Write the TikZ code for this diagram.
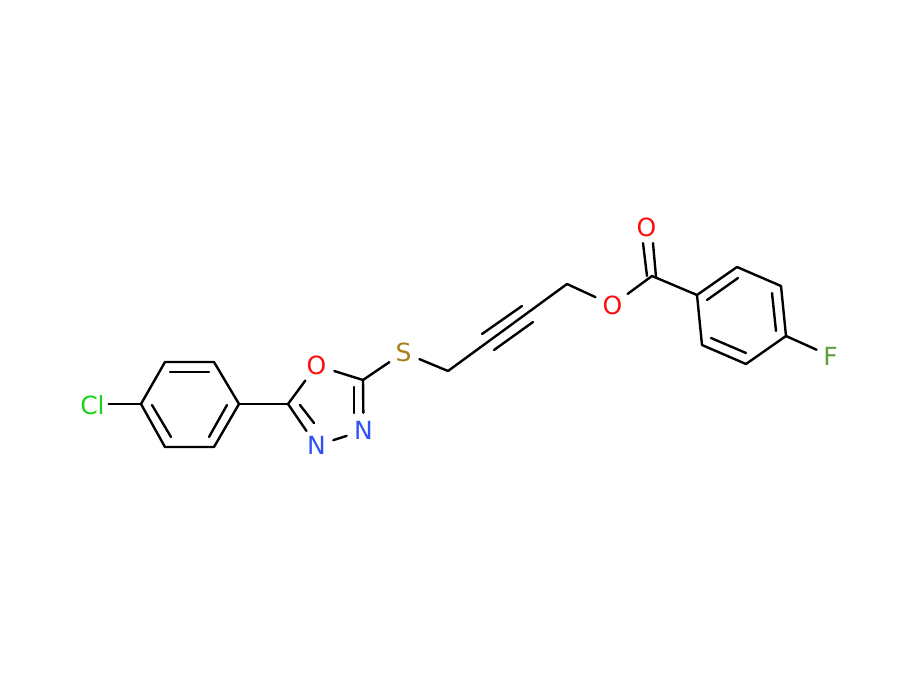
\documentclass[tikz,border=0pt]{standalone}
\usepackage{fontspec}
\setmainfont{DejaVu Sans}
\definecolor{oxygen}{HTML}{FF0D0D}
\definecolor{nitrogen}{HTML}{3050F8}
\definecolor{sulfur}{HTML}{A8801A}
\definecolor{chlorine}{HTML}{1FD01F}
\definecolor{fluorine}{HTML}{5F9E3A}
\tikzset{atom/.style = {circle, inner sep = 0, minimum size = 35, font = \fontsize{25}{25}\selectfont}}
\tikzset{bond/.style = {line width = 2.4, line cap = round, line join = round}}

\begin{document}
\begin{tikzpicture}[x = 1pt, y = -1pt]
      \useasboundingbox (0, 0) rectangle (900, 680);

      \node [atom, text = chlorine, minimum size = 32] (cl) at (92.5, 405.5) {Cl};
      \node [atom, text = oxygen, minimum size = 37] (o1) at (316.5, 365.5) {O};
      \node [atom, text = nitrogen] (n1) at (316.5, 445.5) {N};
      \node [atom, text = nitrogen] (n2) at (363.5, 430.5) {N};
      \node [atom, text = sulfur, minimum size = 34] (s) at (403.5, 352.5) {S};
      \node [atom, text = oxygen, minimum size = 37] (o2) at (612.5, 305) {O};
      \node [atom, text = oxygen] (o3) at (646.5, 227.5) {O};
      \node [atom, text = fluorine, minimum size = 30] (f) at (830.5, 356) {F};

      \coordinate (a1) at (141, 404);
      \coordinate (a2) at (165, 362);
      \coordinate (a3) at (214, 362);
      \coordinate (a4) at (239, 404);
      \coordinate (a5) at (214, 447);
      \coordinate (a6) at (165, 447);
      \coordinate (r1) at (288, 404);
      \coordinate (r2) at (363, 380);
      \coordinate (y1) at (448, 371);
      \coordinate (y2) at (567, 284);
      \coordinate (e1) at (652, 276);
      \coordinate (b1) at (697, 295);
      \coordinate (b2) at (737, 267);
      \coordinate (b3) at (781, 286);
      \coordinate (b4) at (786, 336);
      \coordinate (b5) at (746, 364);
      \coordinate (b6) at (702, 345);

      \draw [bond] (a1) -- (a2) -- (a3) -- (a4) -- (a5) -- (a6) -- cycle;
      \draw [bond] (b1) -- (b2) -- (b3) -- (b4) -- (b5) -- (b6) -- cycle;
      \draw [bond] (cl.east |- a1) -- (a1);
      \draw [bond] (a4) -- (r1);
      \draw [bond] (r1) -- (o1);
      \draw [bond] (o1) -- (r2);
      \draw [bond] (r1) -- (n1);
      \draw [bond] (n1) -- (n2);
      \draw [bond] (r2) -- (n2);
      \draw [bond] (r2) -- (s);
      \draw [bond] (s) -- (y1);
      \draw [bond] (y1) -- (y2);
      \draw [bond] (y2) -- (o2);
      \draw [bond] (o2) -- (e1);
      \draw [bond] (e1) -- (b1);
      \draw [bond] (b4) -- (f);

      \coordinate (i1) at (170, 372);
      \coordinate (i2) at (209, 372);
      \coordinate (i3) at (152, 405);
      \coordinate (i4) at (171, 437);
      \coordinate (i5) at (209, 437);
      \coordinate (i6) at (227, 405);
      \coordinate (i7) at (300, 405);
      \coordinate (i8) at (314, 423);
      \coordinate (i9) at (354, 387);
      \coordinate (i10) at (354, 413);
      \coordinate (t1) at (482, 334);
      \coordinate (t2) at (522, 306);
      \coordinate (t3) at (494, 350);
      \coordinate (t4) at (533, 322);
      \coordinate (d1) at (643, 243);
      \coordinate (d2) at (647, 276);
      \coordinate (d3) at (653, 243);
      \coordinate (d4) at (656, 277);
      \coordinate (j1) at (707, 300);
      \coordinate (j2) at (738, 278);
      \coordinate (j3) at (772, 293);
      \coordinate (j4) at (776, 331);
      \coordinate (j5) at (711, 338);
      \coordinate (j6) at (746, 353);

      \draw [bond] (i1) -- (i2);
      \draw [bond] (i3) -- (i4);
      \draw [bond] (i5) -- (i6);
      \draw [bond] (i7) -- (i8);
      \draw [bond] (i9) -- (i10);
      \draw [bond] (t1) -- (t2);
      \draw [bond] (t3) -- (t4);
      \draw [bond] (d1) -- (d2);
      \draw [bond] (d3) -- (d4);
      \draw [bond] (j1) -- (j2);
      \draw [bond] (j3) -- (j4);
      \draw [bond] (j5) -- (j6);
    \end{tikzpicture}
\end{document}
